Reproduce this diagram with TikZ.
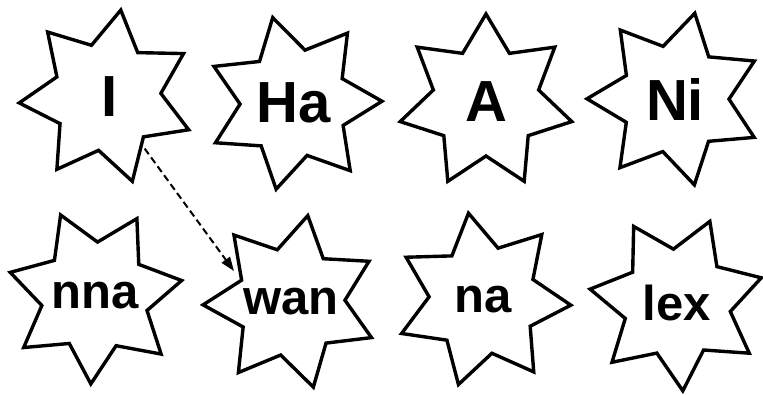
\documentclass[tikz,border=0pt]{standalone}
\usepackage{fontspec}
\setmainfont{Liberation Sans}
\usetikzlibrary{shapes.geometric,arrows.meta}
\begin{document}
\begin{tikzpicture}[x=1pt,y=-1pt,
  burst/.style={star, star points=7, star point ratio=1.63, minimum size=176pt,
    inner sep=0pt, draw=black, line width=3.4pt, fill=white,
    font=\bfseries\fontsize{58}{58}\selectfont},
  smalltext/.style={font=\bfseries\fontsize{49}{49}\selectfont},
  link/.style={dash pattern=on 7pt off 4pt, line width=2pt,
    -{Triangle[length=14pt,width=10pt]}, shorten <=3pt}]
\useasboundingbox (0,0) rectangle (763,394);
\node[burst, shape border rotate=-9]  (I)   at (107,97)  {\makebox[0pt]{\kern6pt I}};
\node[burst, shape border rotate=14]  (Ha)  at (294,103) {\makebox[0pt]{Ha}};
\node[burst, shape border rotate=0]   (A)   at (486,102) {\makebox[0pt]{A}};
\node[burst, shape border rotate=-13] (Ni)  at (675,99)  {\makebox[0pt]{Ni}};
\node[burst, smalltext, shape border rotate=23]   (nna) at (95,296)  {\makebox[0pt]{nna}};
\node[burst, smalltext, shape border rotate=-11]  (wan) at (291,302) {\makebox[0pt]{wan}};
\node[burst, smalltext, shape border rotate=9.5]  (na)  at (483,300) {\makebox[0pt]{na}};
\node[burst, smalltext, shape border rotate=29.5] (lex) at (677,303) {\makebox[0pt]{lex}};
\coordinate (tip) at (234,271);
\draw[link] (I) -- (tip);
\end{tikzpicture}
\end{document}
